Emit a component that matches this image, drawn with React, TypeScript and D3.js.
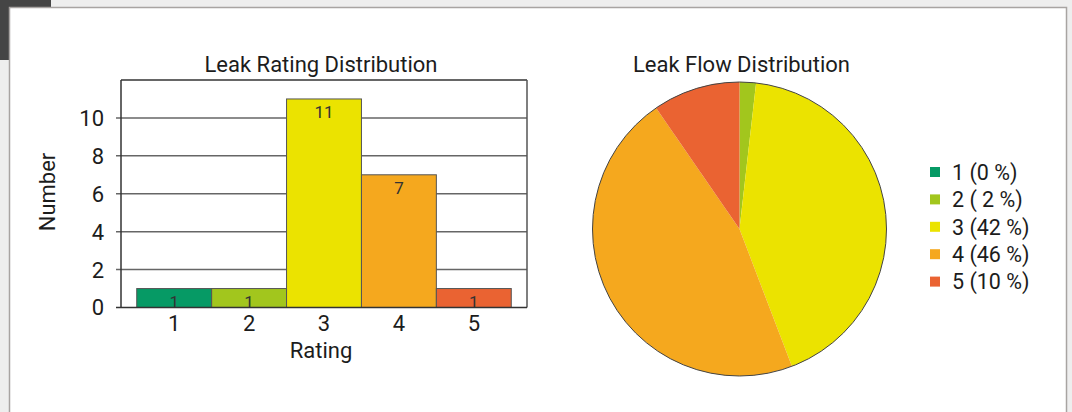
import React from 'react'
import * as d3 from 'd3'

// bar chart data
const ratings = ['1', '2', '3', '4', '5']
const ratingCounts = [1, 1, 11, 7, 1]
const yTicks = [0, 2, 4, 6, 8, 10]

// pie chart data (share of leak flow per rating, %)
const flowShares = [0, 1.8, 42.4, 46.2, 9.6]
const legendLabels = ['1 (0 %)', '2 ( 2 %)', '3 (42 %)', '4 (46 %)', '5 (10 %)']

const ratingColors = ['#069a65', '#a2c61d', '#ebe300', '#f5a81e', '#ea6332']

const FONT = 'Roboto, "Noto Sans", sans-serif'

export default function App() {
  const width = 1072, height = 412

  // bar chart frame
  const plot = { left: 121, right: 527, top: 80, bottom: 307.5 }

  const xScale = d3.scaleBand<string>()
    .domain(ratings)
    .range([plot.left, plot.right])
    .paddingInner(0)
    .paddingOuter(0.21)

  const yScale = d3.scaleLinear()
    .domain([0, 12])
    .range([plot.bottom, plot.top])

  // pie
  const cx = 739.5, cy = 229, r = 147
  const pie = d3.pie<number>().sort(null).value(d => d)
  const arcs = pie(flowShares)
  const arc = d3.arc<d3.PieArcDatum<number>>().innerRadius(0).outerRadius(r)

  const txt = '#1c1c1c'

  return (
    <svg width={width} height={height}
      style={{ position: 'absolute', left: 0, top: 0, fontFamily: FONT }}>
      {/* page background */}
      <rect x={0} y={0} width={width} height={height} fill="#eeeeee" />
      <rect x={0} y={0} width={51} height={60} fill="#454545" />
      <rect x={9.5} y={7.5} width={1057} height={420} fill="#ffffff" stroke="#a8a4a2" strokeWidth={1.5} />

      {/* ---- bar chart ---- */}
      <text x={321} y={72} textAnchor="middle" fontSize={22} fill={txt}>
        Leak Rating Distribution
      </text>

      {yTicks.filter(t => t > 0).map(t => (
        <line key={'g' + t} x1={116} x2={plot.right} y1={yScale(t)} y2={yScale(t)}
          stroke="#666" strokeWidth={1.5} />
      ))}
      {yTicks.map(t => (
        <text key={'yt' + t} x={104} y={yScale(t)} dy="0.36em" textAnchor="end"
          fontSize={22} fill={txt}>{t}</text>
      ))}

      {ratings.map((k, i) => {
        const x = xScale(k) as number
        const y = yScale(ratingCounts[i])
        return (
          <g key={'b' + k}>
            <rect x={x} y={y} width={xScale.bandwidth()} height={plot.bottom - y}
              fill={ratingColors[i]} stroke="#555" strokeWidth={1} />
            <text x={x + xScale.bandwidth() / 2} y={y + 19} textAnchor="middle"
              fontSize={17} fill="#333">{ratingCounts[i]}</text>
          </g>
        )
      })}

      {/* frame */}
      <line x1={plot.left} x2={plot.right} y1={plot.top} y2={plot.top} stroke="#333" strokeWidth={1.5} />
      <line x1={plot.right} x2={plot.right} y1={plot.top} y2={plot.bottom} stroke="#555" strokeWidth={1.5} />
      <line x1={plot.left} x2={plot.left} y1={plot.top} y2={plot.bottom} stroke="#333" strokeWidth={1.5} />
      <line x1={116} x2={plot.right} y1={plot.bottom} y2={plot.bottom} stroke="#333" strokeWidth={1.5} />

      {ratings.map(k => (
        <text key={'xt' + k} x={(xScale(k) as number) + xScale.bandwidth() / 2} y={331}
          textAnchor="middle" fontSize={22} fill={txt}>{k}</text>
      ))}
      <text x={321} y={358} textAnchor="middle" fontSize={22} fill={txt}>Rating</text>
      <text transform="translate(55,192) rotate(-90)" textAnchor="middle" fontSize={22} fill={txt}>Number</text>

      {/* ---- pie chart ---- */}
      <text x={741.5} y={72} textAnchor="middle" fontSize={22} fill={txt}>Leak Flow Distribution</text>
      <g transform={`translate(${cx},${cy})`}>
        {arcs.map((a, i) => (
          <path key={'p' + i} d={arc(a) || ''} fill={ratingColors[i]} />
        ))}
        <circle r={r} fill="none" stroke="#444" strokeWidth={1} />
      </g>

      {/* legend */}
      {legendLabels.map((lab, i) => {
        const y = 172 + i * 27.4
        return (
          <g key={'l' + i}>
            <rect x={930} y={y - 5} width={10} height={10} fill={ratingColors[i]} />
            <text x={952} y={y} dy="0.36em" fontSize={21.5} fill={txt}>{lab}</text>
          </g>
        )
      })}
    </svg>
  )
}
